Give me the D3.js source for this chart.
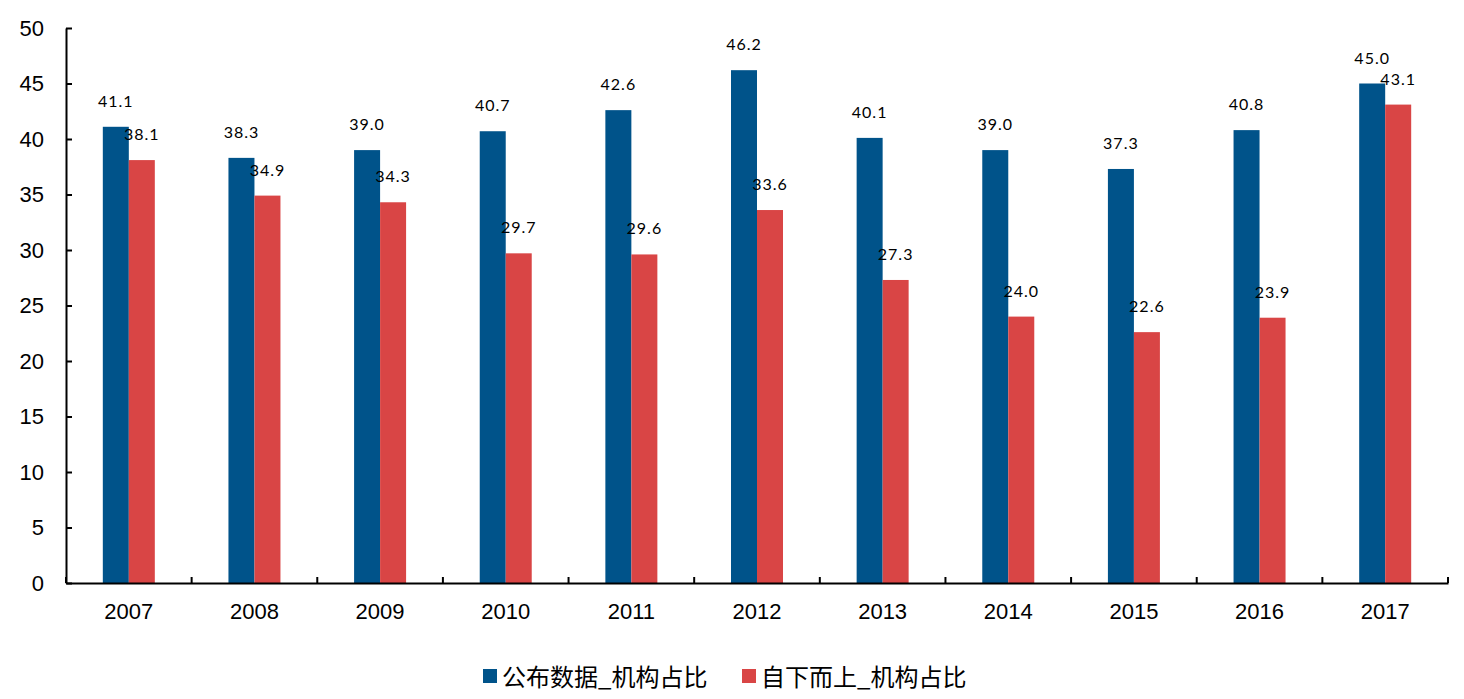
<!DOCTYPE html>
<html>
<head>
<meta charset="utf-8">
<script src="https://cdn.jsdelivr.net/npm/d3@7"></script>
<style>
  body { margin: 0; background: #fff; }
  svg text { fill: #000; }
</style>
</head>
<body>
<div class="chart"></div>
<script>
const years = ["2007", "2008", "2009", "2010", "2011", "2012", "2013", "2014", "2015", "2016", "2017"];
const published = [41.1, 38.3, 39.0, 40.7, 42.6, 46.2, 40.1, 39.0, 37.3, 40.8, 45.0];
const bottomUp = [38.1, 34.9, 34.3, 29.7, 29.6, 33.6, 27.3, 24.0, 22.6, 23.9, 43.1];
const seriesNames = ["公布数据_机构占比", "自下而上_机构占比"];
const yTicks = [0, 5, 10, 15, 20, 25, 30, 35, 40, 45, 50];

const width = 1464,
  height = 699;
const colors = ["#00538a", "#d94545"];
const plotLeft = 66,
  plotRight = 1448,
  plotTop = 28,
  plotBottom = 583;

const svg = d3
  .select(".chart")
  .append("svg")
  .attr("width", width)
  .attr("height", height);

const xScale = d3.scaleBand().domain(years).range([plotLeft, plotRight]);
const xInner = d3.scaleBand().domain([0, 1]).range([0, 52]);
const yScale = d3.scaleLinear().domain([0, 50]).range([plotBottom, plotTop]);

// bars
const series = [published, bottomUp];
series.forEach((vals, s) => {
  svg
    .append("g")
    .selectAll("rect")
    .data(vals)
    .enter()
    .append("rect")
    .attr("x", (d, i) => xScale(years[i]) + xScale.bandwidth() / 2 - 26 + xInner(s))
    .attr("y", (d) => yScale(d))
    .attr("width", xInner.bandwidth())
    .attr("height", (d) => yScale(0) - yScale(d))
    .style("fill", colors[s]);

  svg
    .append("g")
    .selectAll("text")
    .data(vals)
    .enter()
    .append("text")
    .attr("x", (d, i) => xScale(years[i]) + xScale.bandwidth() / 2 - 26 + xInner(s) + xInner.bandwidth() / 2)
    .attr("y", (d) => yScale(d) - 20)
    .attr("text-anchor", "middle")
    .style("font-family", "Lato, 'DejaVu Sans', sans-serif")
    .style("font-size", "16px")
    .style("letter-spacing", "1px")
    .text((d) => d.toFixed(1));
});

// y axis
const yAxis = d3.axisLeft(yScale).tickValues(yTicks).tickSizeInner(-6).tickSizeOuter(0).tickPadding(22);
const gy = svg.append("g").attr("transform", `translate(${plotLeft},0)`).call(yAxis);
gy.select(".domain").attr("stroke-width", 2);
gy.selectAll(".tick line").attr("stroke-width", 2);
gy.selectAll("text")
  .style("font-family", "'Liberation Sans', Arial, sans-serif")
  .style("font-size", "22px");

// x axis
const xAxis = d3.axisBottom(xScale).tickSize(0).tickPadding(20);
const gx = svg.append("g").attr("transform", `translate(0,${plotBottom})`).call(xAxis);
gx.select(".domain").attr("stroke-width", 2);
gx.selectAll("text")
  .style("font-family", "'Liberation Sans', Arial, sans-serif")
  .style("font-size", "22px");

// category separators
svg
  .append("g")
  .selectAll("line")
  .data(years.concat(["end"]))
  .enter()
  .append("line")
  .attr("x1", (d, i) => (i < years.length ? xScale(d) : plotRight))
  .attr("x2", (d, i) => (i < years.length ? xScale(d) : plotRight))
  .attr("y1", plotBottom)
  .attr("y2", plotBottom - 6)
  .attr("stroke", "#000")
  .attr("stroke-width", 2);

// legend
const legendX = [483, 742];
seriesNames.forEach((name, s) => {
  svg
    .append("rect")
    .attr("x", legendX[s])
    .attr("y", 669)
    .attr("width", 14)
    .attr("height", 14)
    .style("fill", colors[s]);
  svg
    .append("text")
    .attr("x", legendX[s] + 19)
    .attr("y", 686)
    .style("font-family", "'Noto Sans CJK SC', sans-serif")
    .style("font-size", "24px")
    .text(name);
});
</script>
</body>
</html>
